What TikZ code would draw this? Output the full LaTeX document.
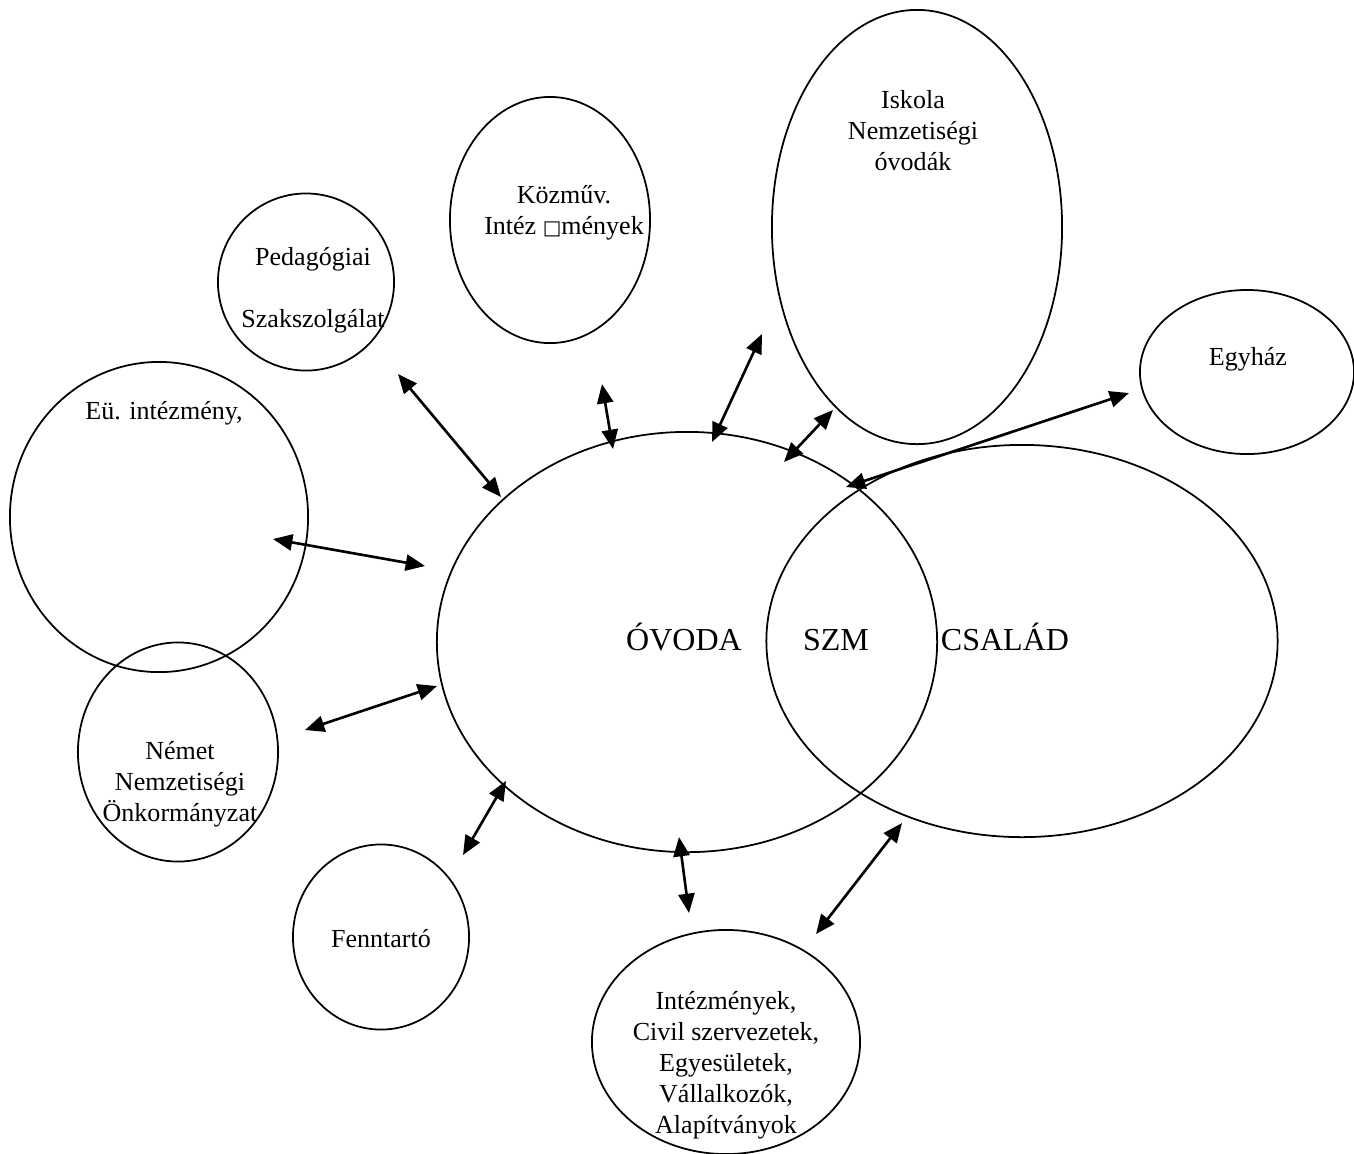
\documentclass[tikz,border=0pt]{standalone}
\usepackage{fontspec}
\setmainfont{Liberation Serif}
\newfontfamily\symfont{DejaVu Sans}
\usetikzlibrary{shapes.geometric,arrows.meta}
\tikzset{
  bub/.style={draw, ellipse, line width=0.5pt, inner sep=0pt, outer sep=0pt},
  lbl/.style={align=center, inner sep=0pt, font=\fontsize{7.4}{8.8}\selectfont},
  big/.style={inner sep=0pt, anchor=base, font=\fontsize{9.1}{11}\selectfont},
  link/.style={line width=0.75pt, {Triangle[length=5.5pt,width=4.6pt]}-{Triangle[length=5.5pt,width=4.6pt]}}
}
\begin{document}
\begin{tikzpicture}[x=0.01cm,y=-0.01cm]
\useasboundingbox (0,0) rectangle (1354,1153);
% bubbles
\node[bub, minimum width=2.98cm, minimum height=3.10cm] (eu) at (159,517) {};
\node[bub, minimum width=1.76cm, minimum height=1.77cm] (ped) at (306,282) {};
\node[bub, minimum width=2.00cm, minimum height=2.46cm] (koz) at (550,220) {};
\node[bub, minimum width=2.90cm, minimum height=4.34cm] (isk) at (917,227) {};
\node[bub, minimum width=2.14cm, minimum height=1.64cm] (egy) at (1247,372) {};
\node[bub, minimum width=5.00cm, minimum height=4.20cm] (ovo) at (687,642) {};
\node[bub, minimum width=5.11cm, minimum height=3.92cm] (csa) at (1022,641) {};
\node[bub, minimum width=2.00cm, minimum height=2.19cm] (nem) at (178,752) {};
\node[bub, minimum width=1.76cm, minimum height=1.85cm] (fen) at (381,937) {};
\node[bub, minimum width=2.68cm, minimum height=2.24cm] (int) at (726,1042) {};
% labels
\node[lbl] (teu) at (164,413) {Eü. intézmény,};
\node[lbl] (tped) at (313,290) {Pedagógiai\\[8.8pt]Szakszolgálat};
\node[lbl] (tkoz) at (564,213) {Közműv.\\Intéz {\symfont\fontsize{5.6}{8.8}\selectfont □}mények};
\node[lbl] (tisk) at (913,131) {Iskola\\Nemzetiségi\\óvodák};
\node[lbl] (tegy) at (1248,359) {Egyház};
\node[lbl] (tnem) at (180,784) {Német\\Nemzetiségi\\Önkormányzat};
\node[lbl] (tfen) at (381,939) {Fenntartó};
\node[lbl] (tint) at (726,1065) {Intézmények,\\Civil szervezetek,\\Egyesületek,\\Vállalkozók,\\Alapítványok};
\node[big] (tovo) at (684,650) {ÓVODA};
\node[big] (tszm) at (836,650) {SZM};
\node[big] (tcsa) at (1005,650) {CSALÁD};
% arrow end points
\coordinate (a1) at (398,374); \coordinate (b1) at (501,497);
\coordinate (a2) at (602,384); \coordinate (b2) at (613,449);
\coordinate (a3) at (762,334); \coordinate (b3) at (712,442);
\coordinate (a4) at (833,410); \coordinate (b4) at (784,462);
\coordinate (a5) at (1129,393); \coordinate (b5) at (846,487);
\coordinate (a6) at (273,539); \coordinate (b6) at (425,566);
\coordinate (a7) at (305,730); \coordinate (b7) at (437,686);
\coordinate (a8) at (506,781); \coordinate (b8) at (463,855);
\coordinate (a9) at (679,837); \coordinate (b9) at (689,913);
\coordinate (a10) at (902,823); \coordinate (b10) at (816,934);
\foreach \i in {1,...,10} {\draw[link] (a\i) -- (b\i);}
\end{tikzpicture}
\end{document}
